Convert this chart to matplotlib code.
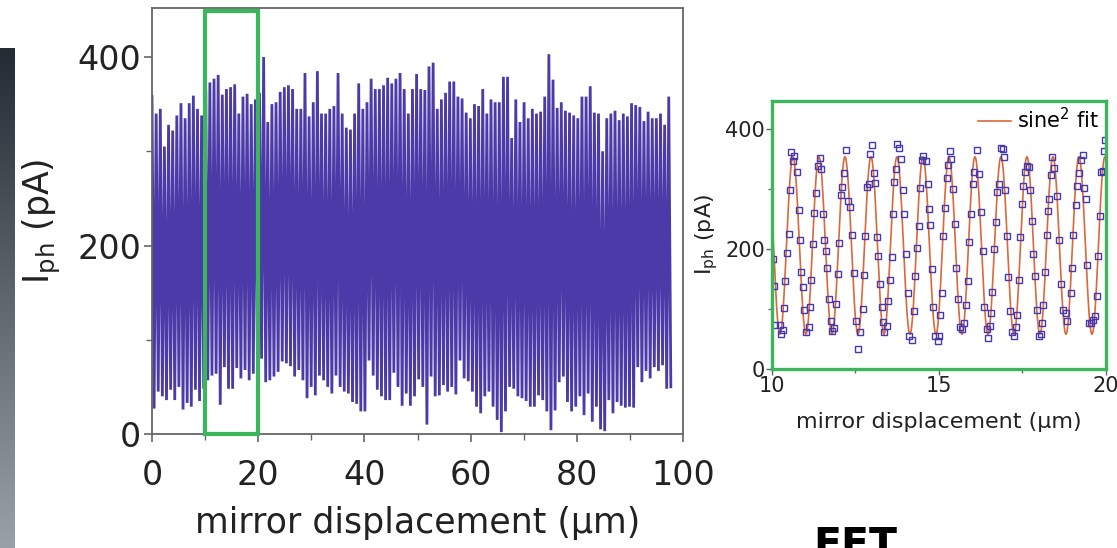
import numpy as np
import matplotlib.pyplot as plt
from matplotlib.patches import Rectangle
from matplotlib.colors import LinearSegmentedColormap

# ---- main trace: per-fringe maxima / minima (pA) ----
x_end = 97.7  # last displacement sample (um)
peaks = [358, 340, 345, 305, 328, 322, 338,
         351, 335, 351, 359, 345, 338,
         366, 373, 377, 381, 360, 366,
         368, 371, 340, 358, 361, 350, 355, 362,
         400,
         331, 350, 352, 363, 368, 370, 366, 345,
         345, 383, 337, 352, 385, 340,
         340, 345, 348, 383, 340, 325, 323, 340,
         372, 345, 352, 377, 366, 366, 370, 378, 372,
         377, 383, 366, 340, 366, 382, 366, 365,
         390, 394, 345, 355, 362, 374,
         374, 358, 356, 341, 335, 350, 348, 366, 340,
         355, 352, 352, 379, 379, 314, 355, 331, 352,
         335, 345, 340, 342, 358, 403, 376, 346, 352,
         343, 341, 338, 335, 358, 358, 369, 341, 340,
         300, 335, 340, 343, 333, 340, 337,
         351, 349, 347, 332, 342, 335, 335, 340, 328, 358]
troughs = [27, 45, 40, 36, 47, 36, 50, 26, 33, 29, 47, 35, 48, 57, 62, 64,
           31, 71, 48, 48, 70, 59, 68, 57, 64, 78, 80, 55, 57, 61, 66, 77,
           75, 72, 61, 68, 57, 38, 50, 41, 62, 57, 50, 43, 62, 50, 45, 43,
           34, 32, 24, 24, 78, 62, 47, 40, 36,
           36, 65, 50, 30, 43, 30, 40, 58, 50, 10, 61, 40, 41, 52, 45, 50,
           42, 78, 59, 56, 45, 29, 22, 40, 45, 29, 15, 2, 24, 50, 48, 40,
           38, 35, 29, 29, 41, 36, 24, 4, 25, 55, 61, 34, 24, 29, 40, 20,
           43, 13, 29, 5, 3, 36, 22, 34, 30, 28, 29, 28, 71, 55, 67, 59,
           71, 67, 73, 48, 50]

# ---- zoomed data (10-20 um) ----
zoom_x = [10.040, 10.060, 10.100, 10.240, 10.269, 10.319, 10.349, 10.389, 10.439, 10.499,
          10.549, 10.579, 10.639, 10.669, 10.739, 10.798, 10.848, 10.878, 10.938, 10.968,
          11.028, 11.098, 11.128, 11.168, 11.218, 11.267, 11.317, 11.367, 11.427, 11.467,
          11.517, 11.557, 11.627, 11.657, 11.717, 11.766, 11.806, 11.846, 11.916, 11.966,
          12.016, 12.056, 12.106, 12.156, 12.216, 12.275, 12.335, 12.395, 12.445, 12.505,
          12.585, 12.635, 12.715, 12.744, 12.794, 12.834, 12.894, 12.934, 12.984, 13.044,
          13.094, 13.134, 13.184, 13.234, 13.284, 13.333, 13.363,
          13.434, 13.484, 13.533, 13.583, 13.613, 13.653, 13.703, 13.733, 13.803, 13.863,
          13.913, 13.953, 14.003, 14.072, 14.112, 14.182, 14.242, 14.282, 14.352, 14.402,
          14.442, 14.502, 14.532, 14.601, 14.661, 14.701, 14.741, 14.781, 14.831, 14.881,
          14.961, 15.000, 15.040, 15.080, 15.120, 15.180, 15.240, 15.280, 15.320, 15.360,
          15.420, 15.470, 15.520, 15.579, 15.629, 15.699, 15.759, 15.799, 15.859, 15.909,
          15.949, 16.028, 16.058, 16.128, 16.198, 16.258, 16.308, 16.358, 16.428, 16.478,
          16.518, 16.557, 16.587,
          16.647, 16.697, 16.727, 16.796, 16.856, 16.906, 16.956, 16.986, 17.026, 17.076,
          17.136, 17.186, 17.246, 17.296, 17.345, 17.385, 17.425, 17.475, 17.515, 17.565,
          17.625, 17.695, 17.725, 17.775, 17.814, 17.864, 17.924, 17.984, 18.044, 18.084,
          18.124, 18.174, 18.224, 18.254, 18.304, 18.353, 18.393, 18.453, 18.543, 18.603,
          18.653, 18.723, 18.792, 18.842, 18.942, 18.982, 19.022, 19.092, 19.142, 19.202,
          19.242, 19.301, 19.341, 19.391, 19.431, 19.491, 19.551, 19.621, 19.671, 19.721,
          19.771, 19.821, 19.850, 19.920, 19.950, 19.970]
zoom_y = [184, 139, 73, 73, 58, 65, 102, 146, 193, 226,
          298, 362, 347, 355, 329, 265, 215, 162, 137, 98,
          61, 70, 104, 148, 208, 261, 294, 338, 352, 333,
          258, 216, 197, 169, 116, 80, 63, 68, 109, 158,
          211, 290, 304, 327, 366, 280, 270, 224, 160, 80,
          33, 61, 100, 156, 222, 304, 309, 358, 373, 327,
          311, 220, 188, 141, 104, 78, 61,
          72, 113, 148, 187, 259, 312, 334, 376, 368, 351,
          299, 259, 191, 126, 55, 48, 96, 155, 202, 238,
          302, 349, 356, 347, 308, 267, 240, 166, 104, 55,
          46, 55, 90, 126, 222, 268, 319, 340, 363, 351,
          301, 242, 168, 116, 70, 66, 77, 106, 146, 212,
          259, 309, 329, 365, 326, 262, 197, 104, 66, 51,
          72, 93, 128,
          200, 245, 295, 308, 368, 367, 354, 298, 222, 154,
          97, 62, 55, 70, 90, 149, 221, 276, 305, 328,
          338, 337, 298, 247, 191, 155, 98, 55, 59, 76,
          106, 162, 223, 264, 284, 323, 354, 336, 288, 216,
          142, 98, 94, 80, 127, 169, 223, 273, 305, 327,
          348, 357, 302, 284, 173, 77, 76, 82, 88, 122,
          189, 255, 329, 331, 364, 382]

# sine^2 fit parameters
fit_base = 58
fit_amp = 296
fit_period = 0.7784
fit_x0 = 10.240

# ---- colours ----
trace_col = '#4b3aa8'
green = '#3cb65c'
fit_col = '#d9683a'
frame_col = '#666666'

fig = plt.figure(figsize=(11.17, 5.48), dpi=100)

# dark strip on the left edge
bar = fig.add_axes([0, 0, 15 / 1117, 500 / 548])
bar.imshow(np.linspace(0, 1, 200)[:, None], aspect='auto',
           cmap=LinearSegmentedColormap.from_list('strip', ['#232b34', '#9aa0a7']))
bar.axis('off')

# ---- main panel ----
ax = fig.add_axes([0.1361, 0.2080, 0.4754, 0.7774])
x_main = np.linspace(0, x_end, 2 * len(peaks))
y_main = np.empty(2 * len(peaks))
y_main[0::2] = peaks
y_main[1::2] = troughs
ax.plot(x_main, y_main, color=trace_col, lw=2.0, solid_joinstyle='miter')
ax.set_xlim(0, 100)
ax.set_ylim(0, 452)
ax.add_patch(Rectangle((10, 0), 10, 449, fill=False, ec=green, lw=3, zorder=5, clip_on=False))

ax.set_xticks([0, 20, 40, 60, 80, 100])
ax.set_xticks([10, 30, 50, 70, 90], minor=True)
ax.set_yticks([0, 200, 400])
ax.set_yticks([100, 300], minor=True)
ax.tick_params(which='major', direction='out', length=6, width=1.2, color=frame_col,
               labelsize=24, labelcolor='#222222')
ax.tick_params(which='minor', direction='out', length=4, width=1.0, color=frame_col)
ax.tick_params(axis='x', which='major', pad=12)
ax.tick_params(axis='y', which='major', pad=2)
for s in ax.spines.values():
    s.set_color(frame_col)
    s.set_linewidth(1.3)
ax.set_xlabel('mirror displacement (µm)', fontsize=25, color='#222222')
ax.set_ylabel(r'I$_{\mathregular{ph}}$ (pA)', fontsize=25, color='#222222')
ax.xaxis.set_label_coords(0.5, -0.17)
ax.yaxis.set_label_coords(-0.168, 0.5)

# ---- inset panel ----
ins = fig.add_axes([0.6911, 0.3266, 0.2990, 0.4891])
x_fit = np.linspace(10, 20, 800)
y_fit = fit_base + fit_amp * np.sin(np.pi * (x_fit - fit_x0) / fit_period) ** 2
ins.plot(x_fit, y_fit, color=fit_col, lw=1.2, label=r'sine$^{\mathregular{2}}$ fit')
ins.plot(zoom_x, zoom_y, ls='none', marker='s', ms=5, mfc='none', mec='#4638b0', mew=1.0)
ins.set_xlim(10, 20)
ins.set_ylim(0, 447)
ins.set_xticks([10, 15, 20])
ins.set_xticks([12.5, 17.5], minor=True)
ins.set_yticks([0, 200, 400])
ins.set_yticks([100, 300], minor=True)
ins.tick_params(which='major', direction='out', length=4, width=1.0, color=frame_col,
                labelsize=15, labelcolor='#222222', pad=1)
ins.tick_params(which='minor', direction='out', length=3, width=1.0, color=frame_col)
for s in ins.spines.values():
    s.set_color(green)
    s.set_linewidth(2.4)
ins.set_xlabel('mirror displacement (µm)', fontsize=16, color='#222222')
ins.set_ylabel(r'I$_{\mathregular{ph}}$ (pA)', fontsize=16, color='#222222')
ins.xaxis.set_label_coords(0.5, -0.16)
ins.yaxis.set_label_coords(-0.156, 0.5)
ins.legend(loc='upper right', frameon=False, fontsize=15, handlelength=1.6,
           handletextpad=0.3, borderaxespad=0.1, borderpad=0.2)

fig.text(813 / 1117, 1 - 526 / 548, 'FFT', ha='left', va='top',
         fontsize=29.5, fontweight='bold', color='black')

fig.savefig('out.png', dpi=100)
